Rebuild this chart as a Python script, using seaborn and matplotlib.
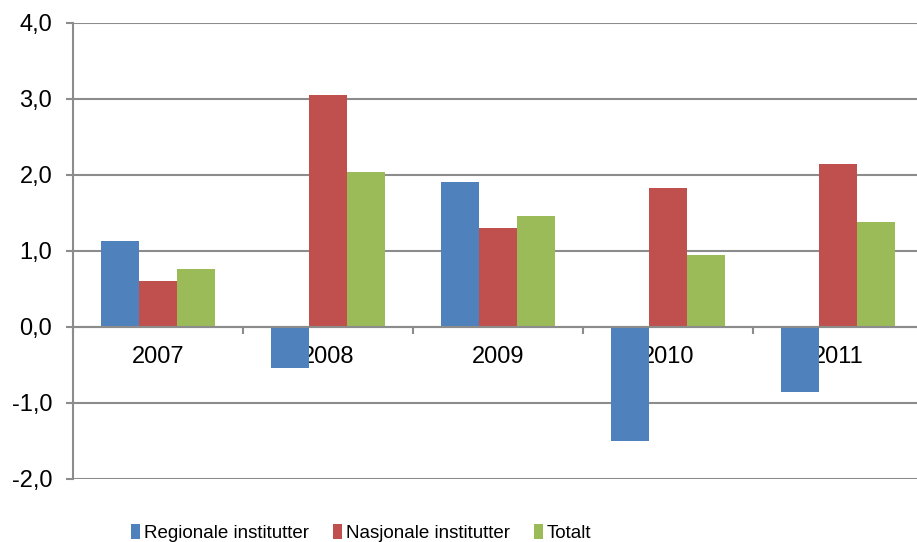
import matplotlib
matplotlib.use("Agg")
import matplotlib.pyplot as plt
import matplotlib.ticker as mticker
import pandas as pd
import seaborn as sns

years = ["2007", "2008", "2009", "2010", "2011"]
series = ["Regionale institutter", "Nasjonale institutter", "Totalt"]
regionale = [1.13, -0.54, 1.91, -1.50, -0.85]
nasjonale = [0.61, 3.05, 1.30, 1.83, 2.14]
totalt = [0.76, 2.04, 1.46, 0.95, 1.38]
colors = ["#4F81BD", "#C0504D", "#9BBB59"]

df = pd.DataFrame({
    "year": years * 3,
    "serie": [series[0]] * 5 + [series[1]] * 5 + [series[2]] * 5,
    "value": regionale + nasjonale + totalt,
})

sns.set_style("white")
plt.rcParams["font.family"] = ["Liberation Sans", "DejaVu Sans"]
plt.rcParams["text.color"] = "black"

fig = plt.figure(figsize=(9.17, 5.42), dpi=100)
ax = fig.add_axes([73 / 917, 63 / 542, 850 / 917, 456 / 542])

sns.barplot(data=df, x="year", y="value", hue="serie", palette=colors,
            width=0.667, linewidth=0, saturation=1, ax=ax, zorder=3)

ax.set_ylim(-2, 4)
ax.set_xlim(-0.5, 4.5)
ax.set_yticks(range(-2, 5))
ax.yaxis.set_major_formatter(mticker.FuncFormatter(lambda v, p: f"{v:.1f}".replace(".", ",")))
ax.grid(axis="y", color="#8c8c8c", linewidth=1.5, zorder=0)
ax.set_axisbelow(True)

for s in ["top", "right"]:
    ax.spines[s].set_visible(False)
ax.spines["left"].set_color("#8c8c8c")
ax.spines["left"].set_linewidth(1.5)
ax.spines["bottom"].set_position(("data", 0))
ax.spines["bottom"].set_color("#8c8c8c")
ax.spines["bottom"].set_linewidth(1.5)
ax.spines["bottom"].set_zorder(4)

# boundaries get the tick marks, centres get the labels
ax.set_xticks([i - 0.5 for i in range(6)])
ax.set_xticklabels([])
ax.set_xticks(range(5), minor=True)
ax.set_xticklabels(years, minor=True)
ax.tick_params(axis="x", which="major", direction="out", length=5, width=1.5,
               color="#8c8c8c", bottom=True)
ax.tick_params(axis="x", which="minor", length=0, pad=14, labelsize=17, labelcolor="black")
ax.tick_params(axis="y", direction="out", length=5, width=1.5, color="#8c8c8c",
               left=True, pad=10, labelsize=17, labelcolor="black")
for t in ax.get_xticklabels(minor=True):
    t.set_zorder(5)

ax.set_xlabel("")
ax.set_ylabel("")

handles, labels = ax.get_legend_handles_labels()
leg = ax.legend(handles, labels, loc="center", bbox_to_anchor=(361 / 917, 1 - 533 / 542),
                bbox_transform=fig.transFigure, ncol=3, frameon=False, fontsize=13.5,
                handlelength=0.48, handleheight=0.8, handletextpad=0.2, columnspacing=1.3)
for t in leg.get_texts():
    t.set_color("black")

fig.savefig("out.png", dpi=100)
